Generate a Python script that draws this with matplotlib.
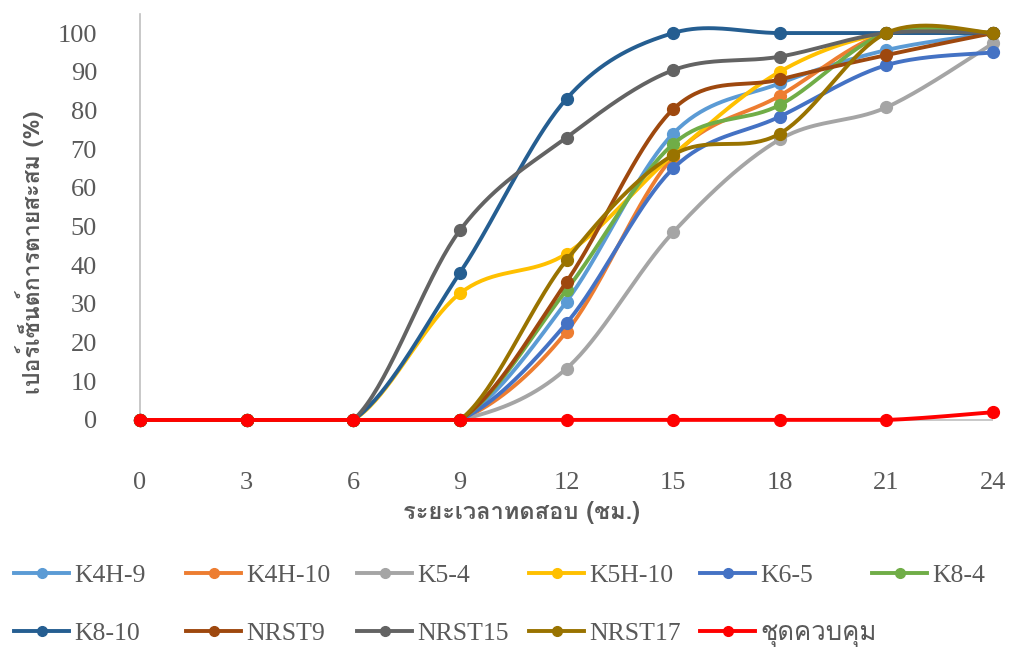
import numpy as np
import matplotlib
matplotlib.use('Agg')
from matplotlib import pyplot as plt
from matplotlib import font_manager
from matplotlib.ft2font import FT2Font

hours = [0, 3, 6, 9, 12, 15, 18, 21, 24]
pct_ticks = [0, 10, 20, 30, 40, 50, 60, 70, 80, 90, 100]
names = ["K4H-9", "K4H-10", "K5-4", "K5H-10", "K6-5", "K8-4",
         "K8-10", "NRST9", "NRST15", "NRST17", "ชุดควบคุม"]
k4h_9 = [0, 0, 0, 0, 30.6, 74.0, 87.0, 95.6, 100]
k4h_10 = [0, 0, 0, 0, 22.8, 68.0, 83.8, 100, 100]
k5_4 = [0, 0, 0, 0, 13.3, 48.5, 72.5, 80.8, 97.3]
k5h_10 = [0, 0, 0, 32.7, 43.0, 68.5, 90.0, 100, 100]
k6_5 = [0, 0, 0, 0, 25.0, 65.0, 78.4, 91.7, 95.0]
k8_4 = [0, 0, 0, 0, 33.6, 71.3, 81.4, 100, 100]
k8_10 = [0, 0, 0, 38.0, 83.0, 100, 100, 100, 100]
nrst9 = [0, 0, 0, 0, 35.7, 80.3, 88.0, 94.3, 100]
nrst15 = [0, 0, 0, 49.0, 73.0, 90.4, 93.9, 100, 100]
nrst17 = [0, 0, 0, 0, 41.3, 68.5, 74.0, 100, 100]
control = [0, 0, 0, 0, 0, 0, 0, 0, 2.0]
series = [k4h_9, k4h_10, k5_4, k5h_10, k6_5, k8_4,
          k8_10, nrst9, nrst15, nrst17, control]
colors = ["#5B9BD5", "#ED7D31", "#A5A5A5", "#FFC000", "#4472C4", "#70AD47",
          "#255E91", "#9E480E", "#636363", "#997300", "#FF0000"]


def find_thai_font():
    # look for any installed font that has Thai glyphs
    for f in font_manager.fontManager.ttflist:
        try:
            if FT2Font(f.fname).get_char_index(0x0E01):
                return f.name
        except Exception:
            pass
    return None


thai = find_thai_font()
serif = ['Liberation Serif'] + ([thai] if thai else []) + ['DejaVu Sans']
thai_fam = ([thai] if thai else []) + ['Liberation Serif', 'DejaVu Sans']


def smooth(xs, ys, n=40):
    # excel-like smoothed line (catmull-rom as cubic bezier)
    p = np.column_stack([xs, ys]).astype(float)
    outx, outy = [], []
    t = np.linspace(0, 1, n)[:, None]
    for i in range(len(p) - 1):
        p0 = p[max(i - 1, 0)]
        p1 = p[i]
        p2 = p[i + 1]
        p3 = p[min(i + 2, len(p) - 1)]
        c1 = p1 + (p2 - p0) / 6
        c2 = p2 - (p3 - p1) / 6
        b = ((1 - t)**3) * p1 + 3 * ((1 - t)**2) * t * c1 + 3 * (1 - t) * t**2 * c2 + t**3 * p2
        outx.append(b[:, 0])
        outy.append(b[:, 1])
    return np.concatenate(outx), np.maximum(np.concatenate(outy), 0)


fig = plt.figure(figsize=(10.09, 6.48), dpi=100)
ax = fig.add_axes([140/1009, 1 - 466.4/648, 853/1009, 452.7/648])

handles = []
for k, (ys, c, nm) in enumerate(zip(series, colors, names)):
    sx, sy = smooth(hours, ys)
    ax.plot(sx, sy, color=c, lw=2.8, zorder=3 + k, clip_on=False,
            solid_capstyle='round')
    ax.plot(hours, ys, 'o', color=c, ms=8.5, zorder=3 + k, clip_on=False)
    h, = ax.plot([], [], '-o', color=c, lw=2.8, ms=7)
    handles.append(h)

ax.axhline(0, color='#BFBFBF', lw=1.2, zorder=1)
ax.set_xlim(0, 24)
ax.set_ylim(-12, 105)
ax.set_xticks(hours)
ax.set_yticks(pct_ticks)
ax.set_yticklabels([])
for s in ['top', 'right', 'bottom']:
    ax.spines[s].set_visible(False)
ax.spines['left'].set_color('#BFBFBF')
ax.spines['left'].set_linewidth(1.2)
ax.spines['left'].set_bounds(0, 105)
ax.tick_params(length=0, labelsize=19, labelcolor='#595959', pad=4)
for lab in ax.get_xticklabels():
    lab.set_family('Liberation Serif')

# y tick labels sit well away from the axis line, as in the excel chart
for v in pct_ticks:
    ax.text(-43/853, v, str(v), transform=ax.get_yaxis_transform(),
            ha='right', va='center_baseline', fontsize=19, color='#595959',
            family='Liberation Serif')

fig.text(30/1009, 1 - 252/648, "เปอร์เซ็นต์การตายสะสม (%)", rotation=90,
         ha='center', va='center', fontsize=16.6, fontweight='bold',
         color='#595959', family=thai_fam)
fig.text(521/1009, 1 - 513/648, "ระยะเวลาทดสอบ (ชม.)", ha='center', va='center',
         fontsize=17, fontweight='bold', color='#595959', family=thai_fam)

# legend: one small legend per column so the columns are evenly spaced
col_x = [14, 186, 357, 529, 700, 872]
for i in range(6):
    hs = [handles[i]] + ([handles[i + 6]] if i + 6 < len(handles) else [])
    ls = [names[i]] + ([names[i + 6]] if i + 6 < len(names) else [])
    lg = fig.legend(hs, ls, loc='upper left', bbox_to_anchor=(col_x[i]/1009, 1 - 564/648),
                    frameon=False, handlelength=2.15, handletextpad=0.2,
                    labelspacing=1.35, borderpad=0, borderaxespad=0,
                    prop={'family': serif, 'size': 18.5})
    for t in lg.get_texts():
        t.set_color('#595959')

fig.savefig('out.png', dpi=100)
